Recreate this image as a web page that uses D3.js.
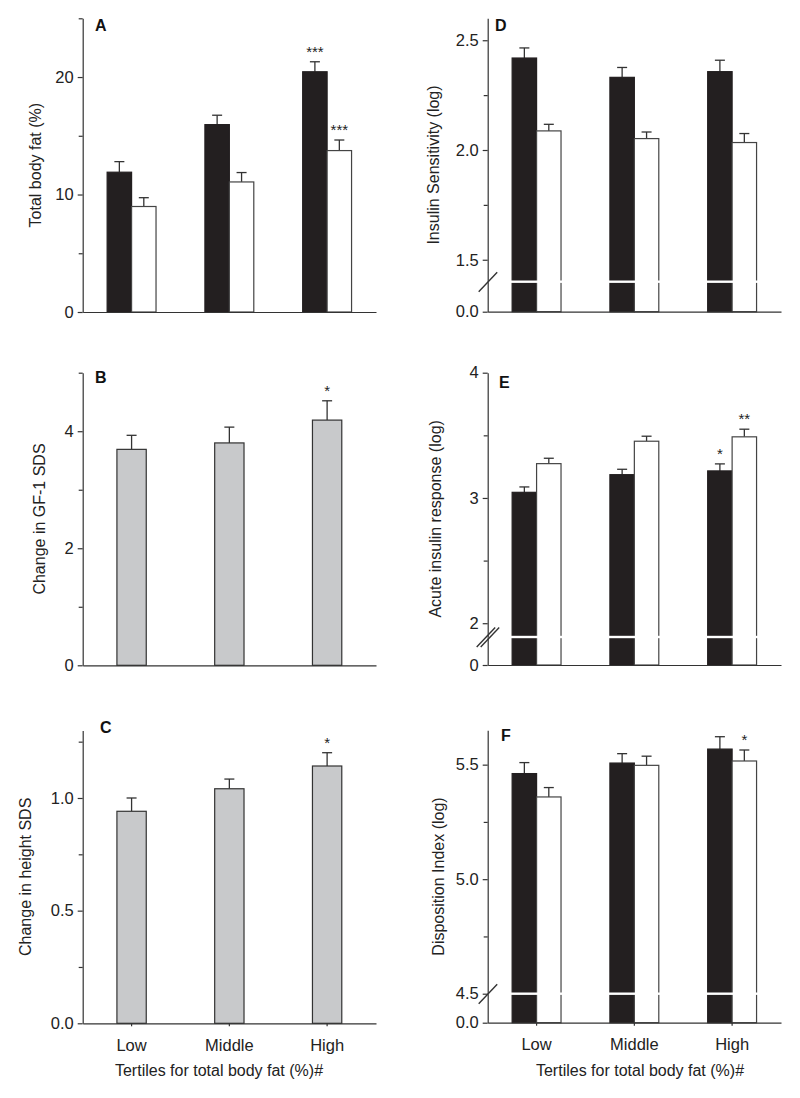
<!DOCTYPE html>
<html>
<head>
<meta charset="utf-8">
<script src="https://cdn.jsdelivr.net/npm/d3@7"></script>
<style>
  html, body { margin: 0; padding: 0; background: #fff; }
  svg { display: block; }
</style>
</head>
<body>
<script>
// ---------------- DATA ----------------
const tertiles = ["Low", "Middle", "High"];

// A: Total body fat (%)
const fatDark = [11.9, 15.95, 20.45];
const fatDarkErr = [0.9, 0.8, 0.85];
const fatDarkSig = ["", "", "***"];
const fatLight = [8.98, 11.07, 13.74];
const fatLightErr = [0.75, 0.8, 0.9];
const fatLightSig = ["", "", "***"];
const fatTicks = [0, 10, 20];
const fatMinor = [5, 15, 25];

// B: Change in IGF-1 SDS
const igf = [3.69, 3.80, 4.19];
const igfErr = [0.24, 0.27, 0.33];
const igfSig = ["", "", "*"];
const igfTicks = [0, 2, 4];
const igfMinor = [1, 3, 5];

// C: Change in height SDS
const heightSds = [0.941, 1.041, 1.142];
const heightSdsErr = [0.059, 0.043, 0.059];
const heightSdsSig = ["", "", "*"];
const heightTicks = [0, 0.5, 1.0];
const heightMinor = [0.25, 0.75, 1.25];

// D: Insulin Sensitivity (log)
const siDark = [2.419, 2.331, 2.357];
const siDarkErr = [0.046, 0.045, 0.052];
const siDarkSig = ["", "", ""];
const siLight = [2.087, 2.052, 2.034];
const siLightErr = [0.03, 0.03, 0.041];
const siLightSig = ["", "", ""];
const siTicks = [1.5, 2.0, 2.5];
const siMinor = [1.75, 2.25];

// E: Acute insulin response (log)
const airDark = [3.045, 3.186, 3.216];
const airDarkErr = [0.043, 0.043, 0.056];
const airDarkSig = ["", "", "*"];
const airLight = [3.274, 3.453, 3.488];
const airLightErr = [0.043, 0.04, 0.061];
const airLightSig = ["", "", "**"];
const airTicks = [2, 3, 4];
const airMinor = [2.5, 3.5];

// F: Disposition Index (log)
const diDark = [5.461, 5.507, 5.568];
const diDarkErr = [0.048, 0.041, 0.054];
const diDarkSig = ["", "", ""];
const diLight = [5.359, 5.497, 5.516];
const diLightErr = [0.041, 0.04, 0.048];
const diLightSig = ["", "", "*"];
const diTicks = [4.5, 5.0, 5.5];
const diMinor = [4.75, 5.25];

const xTitle = "Tertiles for total body fat (%)#";

// ---------------- DRAWING ----------------
const FONT = "'Liberation Sans', Arial, Helvetica, sans-serif";
const AX = "#333";
const DARK = "#231f20";
const GREY = "#c8c9cb";

const svg = d3.select("body").append("svg")
  .attr("width", 800).attr("height", 1098)
  .style("font-family", FONT);

function styleAxis(sel) {
  sel.selectAll("path, line").attr("stroke", AX).attr("stroke-width", 1.2);
  sel.selectAll("text").attr("fill", "#222").style("font-size", "16.5px").style("font-family", FONT);
}

function panel(p) {
  const g = svg.append("g");
  const axisLen = 293.3;
  const x = d3.scaleBand().domain(tertiles)
    .range([p.x0, p.x0 + axisLen]).paddingInner(0.5).paddingOuter(0.25);
  const y = d3.scaleLinear().domain(p.domain).range(p.range);
  const base = p.zeroY;
  const n = p.series.length;
  const bw = n === 2 ? x.bandwidth() / 2 : x.bandwidth() * 0.6;

  p.series.forEach((s, si) => {
    const off = n === 2 ? si * bw : (x.bandwidth() - bw) / 2;
    const cx = t => x(t) + off + bw / 2;
    const rows = tertiles.map((t, i) => ({ t, v: s.vals[i], e: s.errs[i], sig: s.sig[i] }));
    g.selectAll(null).data(rows).join("line")
      .attr("x1", d => cx(d.t)).attr("x2", d => cx(d.t))
      .attr("y1", d => y(d.v)).attr("y2", d => y(d.v + d.e))
      .attr("stroke", AX).attr("stroke-width", 1.3);
    g.selectAll(null).data(rows).join("line")
      .attr("x1", d => cx(d.t) - 5).attr("x2", d => cx(d.t) + 5)
      .attr("y1", d => y(d.v + d.e)).attr("y2", d => y(d.v + d.e))
      .attr("stroke", AX).attr("stroke-width", 1.3);
    g.selectAll(null).data(rows).join("rect")
      .attr("x", d => x(d.t) + off).attr("width", bw)
      .attr("y", d => y(d.v)).attr("height", d => base - y(d.v))
      .attr("fill", s.fill).attr("stroke", s.stroke).attr("stroke-width", 1.2);
    g.selectAll(null).data(rows.filter(d => d.sig)).join("text")
      .attr("x", d => cx(d.t)).attr("y", d => y(d.v + d.e) - 5)
      .attr("text-anchor", "middle").attr("fill", "#222")
      .style("font-size", "15px").text(d => d.sig);
  });

  if (p.breakY !== undefined) {
    g.selectAll(null).data(tertiles).join("rect")
      .attr("x", t => x(t) - 1.5).attr("width", x.bandwidth() + 3)
      .attr("y", p.breakY - 1.2).attr("height", 2.4)
      .attr("fill", "#fff");
  }

  const yAx = g.append("g").attr("transform", `translate(${p.x0},0)`)
    .call(d3.axisLeft(y).tickValues(p.ticks).tickFormat(d3.format(p.fmt))
      .tickSize(5).tickPadding(4).tickSizeOuter(0));
  styleAxis(yAx);
  const yMin = g.append("g").attr("transform", `translate(${p.x0},0)`)
    .call(d3.axisLeft(y).tickValues(p.minor).tickFormat("").tickSize(4).tickSizeOuter(0));
  yMin.select(".domain").remove();
  styleAxis(yMin);
  if (p.breakY !== undefined) {
    const yLow = d3.scaleLinear().domain([0, 1]).range([base, p.breakY]);
    const lowAx = g.append("g").attr("transform", `translate(${p.x0},0)`)
      .call(d3.axisLeft(yLow).tickValues([0]).tickFormat(d3.format(p.fmt))
        .tickSize(5).tickPadding(4).tickSizeOuter(0));
    styleAxis(lowAx);
    const offs = p.doubleSlash ? [-2, 2] : [0];
    offs.forEach(o => {
      g.append("line")
        .attr("x1", p.x0 - 9 + o).attr("y1", p.breakY + 10)
        .attr("x2", p.x0 + 9.5 + o).attr("y2", p.breakY - 9.5)
        .attr("stroke", AX).attr("stroke-width", 1.4);
    });
  }

  const xAx = g.append("g").attr("transform", `translate(0,${base})`)
    .call(d3.axisBottom(x).tickSize(p.bottom ? 3 : 0).tickSizeOuter(0).tickPadding(12.5)
      .tickFormat(d => p.bottom ? d : ""));
  styleAxis(xAx);

  g.append("text")
    .attr("transform", `translate(${p.titleX},${(p.range[1] + base) / 2}) rotate(-90)`)
    .attr("dy", "0.35em").attr("text-anchor", "middle")
    .attr("fill", "#222").style("font-size", "16px").text(p.title);

  g.append("text").attr("x", p.lx).attr("y", p.ly)
    .attr("fill", "#111").style("font-size", "16px").style("font-weight", "bold").text(p.label);

  if (p.bottom) {
    g.append("text").attr("x", p.xtX).attr("y", base + 53)
      .attr("text-anchor", "middle").attr("fill", "#222")
      .style("font-size", "16px").text(xTitle);
  }
}

const darkS = (vals, errs, sig) => ({ vals, errs, sig, fill: DARK, stroke: DARK });
const lightS = (vals, errs, sig) => ({ vals, errs, sig, fill: "#fff", stroke: "#444" });
const greyS = (vals, errs, sig) => ({ vals, errs, sig, fill: GREY, stroke: "#333" });

const L = 82.7, R = 487.7;

panel({ x0: L, label: "A", lx: 95, ly: 31, title: "Total body fat (%)", titleX: 35,
  domain: [0, 25], range: [312, 18.3], zeroY: 312, ticks: fatTicks, minor: fatMinor, fmt: "d",
  series: [darkS(fatDark, fatDarkErr, fatDarkSig), lightS(fatLight, fatLightErr, fatLightSig)] });

panel({ x0: L, label: "B", lx: 95, ly: 383, title: "Change in GF-1 SDS", titleX: 39,
  domain: [0, 5], range: [665.3, 372.7], zeroY: 665.3, ticks: igfTicks, minor: igfMinor, fmt: "d",
  series: [greyS(igf, igfErr, igfSig)] });

panel({ x0: L, label: "C", lx: 100, ly: 733, title: "Change in height SDS", titleX: 25,
  domain: [0, 1.3], range: [1023.3, 730.4], zeroY: 1023.3, ticks: heightTicks, minor: heightMinor, fmt: ".1f",
  bottom: true, xtX: 219,
  series: [greyS(heightSds, heightSdsErr, heightSdsSig)] });

panel({ x0: R, label: "D", lx: 495, ly: 31, title: "Insulin Sensitivity (log)", titleX: 433,
  domain: [1.4, 2.6], range: [281.7, 18.3], zeroY: 311.7, breakY: 281.7, ticks: siTicks, minor: siMinor, fmt: ".1f",
  series: [darkS(siDark, siDarkErr, siDarkSig), lightS(siLight, siLightErr, siLightSig)] });

panel({ x0: R, label: "E", lx: 499, ly: 388, title: "Acute insulin response (log)", titleX: 435,
  domain: [1.89, 4], range: [637, 372.7], zeroY: 665, breakY: 637, doubleSlash: true, ticks: airTicks, minor: airMinor, fmt: "d",
  series: [darkS(airDark, airDarkErr, airDarkSig), lightS(airLight, airLightErr, airLightSig)] });

panel({ x0: R, label: "F", lx: 501, ly: 741, title: "Disposition Index (log)", titleX: 438,
  domain: [4.5, 5.65], range: [993.7, 730.3], zeroY: 1022.7, breakY: 993.7, ticks: diTicks, minor: diMinor, fmt: ".1f",
  bottom: true, xtX: 640,
  series: [darkS(diDark, diDarkErr, diDarkSig), lightS(diLight, diLightErr, diLightSig)] });
</script>
</body>
</html>
